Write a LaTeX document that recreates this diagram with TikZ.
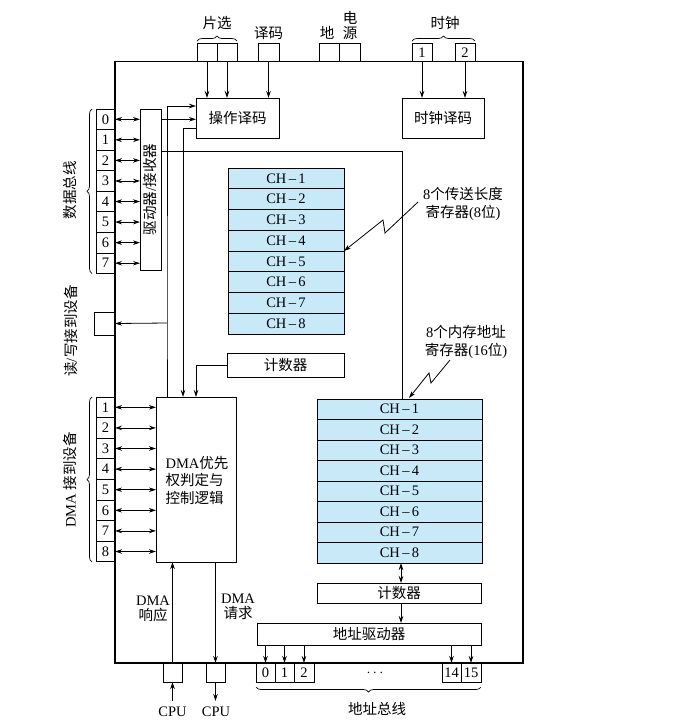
\documentclass[tikz,border=0pt]{standalone}
\usepackage{fontspec}
\setmainfont{Liberation Serif}
\newfontfamily\cjk{Noto Sans CJK SC}
\usetikzlibrary{arrows.meta,decorations.pathreplacing}
\definecolor{regblue}{RGB}{200,233,248}
\newcommand{\mybox}[7][]{\node[box,#1,minimum width={#5-#3},minimum height={#6-#4}] (#2) at ({(#3+#5)/2},{(#4+#6)/2}) {#7};}
\begin{document}
\begin{tikzpicture}[x=1pt,y=-1pt,
  box/.style={draw,line width=0.8pt,inner sep=0pt,outer sep=0pt,font=\fontsize{14.5}{16}\selectfont},
  reg/.style={fill=regblue},
  lbl/.style={inner sep=0pt,font=\fontsize{14.5}{16}\selectfont},
  arr/.style={line width=0.8pt,-{Stealth[length=7pt,width=4.5pt]}},
  darr/.style={line width=0.8pt,{Stealth[length=7pt,width=4.5pt]}-{Stealth[length=7pt,width=4.5pt]}},
  ln/.style={line width=0.8pt},
  brc/.style={line width=0.7pt,decorate,decoration={brace,amplitude=5pt}}]
\useasboundingbox (0,0) rectangle (673,721);
% chip
\mybox[line width=1.1pt]{chip}{115}{61.5}{523}{663}{}
% top pins
\mybox{cs1}{197}{43}{217}{61.5}{}
\mybox{cs2}{217}{43}{237}{61.5}{}
\mybox{dec}{258}{43}{279}{61.5}{}
\mybox{gnd}{319}{43}{339}{61.5}{}
\mybox{pwr}{339}{43}{360}{61.5}{}
\mybox{clka}{412}{43}{432}{61.5}{1}
\mybox{clkb}{455}{43}{475}{61.5}{2}
\node[lbl] (lcs) at (217,23) {\cjk 片选};
\node[lbl] (ldec) at (268.5,33) {\cjk 译码};
\node[lbl] (lgnd) at (327,33) {\cjk 地};
\node[lbl] (lpw1) at (350,18) {\cjk 电};
\node[lbl] (lpw2) at (350,33) {\cjk 源};
\node[lbl] (lclk) at (445,23) {\cjk 时钟};
\draw[brc] (197,41) -- (237,41);
\draw[brc] (412,41) -- (475,41);
% decoders
\mybox{opdec}{196}{98}{279}{138}{\cjk 操作译码}
\mybox{clkdec}{402}{98}{484}{138}{\cjk 时钟译码}
\draw[arr] (cs1.south) -- (cs1.south |- opdec.north);
\draw[arr] (cs2.south) -- (cs2.south |- opdec.north);
\draw[arr] (dec.south) -- (dec.south |- opdec.north);
\draw[arr] (clka.south) -- (clka.south |- clkdec.north);
\draw[arr] (clkb.south) -- (clkb.south |- clkdec.north);
% data bus pins
\foreach \i in {0,...,7} {
  \pgfmathsetmacro\ya{109+\i*20.56}
  \pgfmathsetmacro\yb{\ya+20.56}
  \mybox{d\i}{96}{\ya}{115}{\yb}{\i}
}
\mybox{drv}{140}{109}{161}{270}{}
\node[lbl,rotate=90] (ldrv) at (drv.center) {{\cjk 驱动器}/{\cjk 接收器}};
\foreach \i in {0,...,7} { \draw[darr] (d\i.east) -- (d\i.east -| drv.west); }
\draw[brc] (92,273.5) -- (92,109);
\node[lbl,rotate=90] (ldata) at (70,190) {\cjk 数据总线};
% read/write
\mybox{rw}{94}{312}{115}{335}{}
\node[lbl,rotate=90] (lrw) at (71,331) {{\cjk 读}/{\cjk 写接到设备}};
% transfer length registers
\foreach \i in {1,...,8} {
  \pgfmathsetmacro\ya{168+(\i-1)*20.75}
  \pgfmathsetmacro\yb{\ya+20.75}
  \mybox[reg]{len\i}{228}{\ya}{344}{\yb}{CH\,–\,\i}
}
\mybox{ctra}{227}{353}{344}{377}{\cjk 计数器}
% DMA logic
\mybox{dma}{156}{397}{236}{562}{}
\node[lbl,align=left,font=\fontsize{14.5}{17.5}\selectfont] (ldma) at (197,480) {DMA{\cjk 优先}\\{\cjk 权判定与}\\{\cjk 控制逻辑}};
\foreach \i in {1,...,8} {
  \pgfmathsetmacro\ya{397+(\i-1)*20.6}
  \pgfmathsetmacro\yb{\ya+20.6}
  \mybox{p\i}{96}{\ya}{115}{\yb}{\i}
}
\foreach \i in {1,...,8} { \draw[darr] (p\i.east) -- (p\i.east -| dma.west); }
\draw[brc] (92,562) -- (92,397);
\node[lbl,rotate=90] (ldev) at (70,480) {DMA {\cjk 接到设备}};
% internal wires
\coordinate (ja) at (167,323);
\draw[arr] (dma.north -| ja) -- (ja) |- (opdec.west |- 0,106);
\draw[arr] (ja) -- (rw.east);
\draw[arr] (drv.east |- d0.center) -- (opdec.west |- d0.center);
\draw[arr] (opdec.west |- 0,128) -| (dma.north -| 183,0);
\draw[arr] (ctra.west) -| (dma.north -| 196,0);
% memory address registers
\foreach \i in {1,...,8} {
  \pgfmathsetmacro\ya{399+(\i-1)*20.5}
  \pgfmathsetmacro\yb{\ya+20.5}
  \mybox[reg]{adr\i}{317}{\ya}{482}{\yb}{CH\,–\,\i}
}
\draw[ln] (drv.east |- 0,151) -| (adr1.north -| 402,0);
\mybox{ctrb}{317}{583}{481}{603}{\cjk 计数器}
\mybox{adrv}{257}{623}{481}{645}{\cjk 地址驱动器}
\draw[darr] (adr8.south -| 401,0) -- (ctrb.north -| 401,0);
\draw[arr] (ctrb.south -| 401,0) -- (adrv.north -| 401,0);
% address pins
\mybox{a0}{256}{663}{275}{682}{0}
\mybox{a1}{275}{663}{294}{682}{1}
\mybox{a2}{294}{663}{314}{682}{2}
\mybox{a14}{442}{663}{461}{682}{14}
\mybox{a15}{461}{663}{481}{682}{15}
\foreach \n in {a0,a1,a2,a14,a15} { \draw[arr] (adrv.south -| \n) -- (\n.north); }
\node[lbl] (ldots) at (375,673) {$\cdots$};
\draw[brc] (481,687) -- (256,687);
\node[lbl] (laddr) at (377,709) {\cjk 地址总线};
% CPU pins
\mybox{cpua}{163}{663}{182}{682}{}
\mybox{cpub}{206}{663}{225}{682}{}
\draw[arr] (cpua.north) -- (cpua.north |- dma.south);
\draw[arr] (dma.south -| cpub) -- (cpub.north);
\coordinate (cia) at (172.5,701);
\coordinate (cib) at (215.5,701);
\draw[arr] (cia) -- (cpua.south);
\draw[arr] (cpub.south) -- (cib);
\node[lbl] (lcpua) at (172.5,712) {CPU};
\node[lbl] (lcpub) at (216,712) {CPU};
\node[lbl,align=center,font=\fontsize{14.5}{15.5}\selectfont] (lack) at (153,609) {DMA\\{\cjk 响应}};
\node[lbl,align=center,font=\fontsize{14.5}{15.5}\selectfont] (lreq) at (238,607) {DMA\\{\cjk 请求}};
% annotations
\node[lbl,align=center,font=\fontsize{14.5}{18.5}\selectfont] (nlen) at (463,204) {8{\cjk 个传送长度}\\{\cjk 寄存器}(8{\cjk 位})};
\coordinate (za) at (418,202);
\coordinate (zb) at (385,233);
\coordinate (zc) at (383,220);
\draw[arr] (za) -- (zb) -- (zc) -- (len4.south east);
\node[lbl,align=center,font=\fontsize{14.5}{17.5}\selectfont] (nadr) at (466,342) {8{\cjk 个内存地址}\\{\cjk 寄存器}(16{\cjk 位})};
\coordinate (zd) at (450,360);
\coordinate (ze) at (431,383);
\coordinate (zf) at (429,373);
\coordinate (zg) at (409,398);
\draw[arr] (zd) -- (ze) -- (zf) -- (zg);
\end{tikzpicture}
\end{document}
